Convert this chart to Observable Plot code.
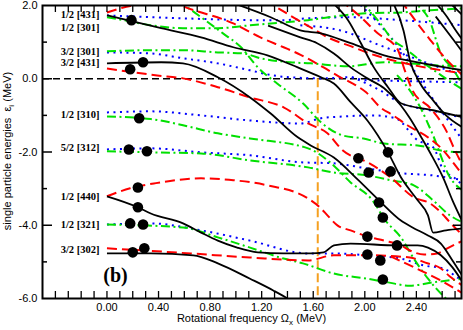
<!DOCTYPE html>
<html><head><meta charset="utf-8">
<script src="https://cdn.jsdelivr.net/npm/d3@7"></script>
<script src="https://cdn.jsdelivr.net/npm/@observablehq/plot@0.6"></script>
<style>html,body{margin:0;padding:0;background:#fff;overflow:hidden;}</style>
</head><body><div id="chart"></div>
<script>
// ---- Data: [Ω (MeV), ε (MeV)] ----
const solidBlack = [
  [[0,1.73],[0.42,1.38],[0.73,1.13],[0.98,0.86],[1.245,0.64],[1.48,0.31],[1.66,0.04],[1.76,-0.13],[1.89,-0.64],[2.02,-1.14],[2.18,-2.01],[2.28,-2.69],[2.41,-3.32],[2.49,-3.73],[2.53,-4.20],[2.63,-4.14],[2.76,-4.09]],
  [[0,0.42],[0.42,0.45],[0.59,0.42],[0.86,0.04],[1.11,-0.51],[1.27,-0.95],[1.48,-1.60],[1.58,-1.82],[1.76,-2.15],[1.95,-2.77],[2.11,-3.32],[2.28,-3.87],[2.37,-4.06],[2.49,-4.28],[2.59,-4.50],[2.68,-4.96],[2.76,-5.40]],
  [[0,-3.21],[0.24,-3.51],[0.34,-3.68],[0.59,-3.95],[0.73,-4.20],[0.86,-4.42],[1.01,-4.61],[1.17,-4.74],[1.37,-4.77],[1.58,-4.77],[1.68,-4.74],[1.76,-4.55],[1.89,-4.50],[2.25,-4.55],[2.41,-4.55],[2.49,-4.61],[2.59,-4.82],[2.68,-5.15],[2.76,-5.56]],
  [[0,-4.77],[0.34,-4.77],[0.67,-4.82],[0.86,-5.04],[1.11,-5.46],[1.29,-5.78],[1.40,-6.0],[1.46,-6.14]],
  [[0.92,2.14],[1.27,1.68],[1.50,1.32],[1.66,1.24],[1.89,0.97],[2.15,0.64],[2.41,0.45],[2.76,0.23]],
  [[1.25,1.45],[1.50,1.13],[1.63,0.97],[1.76,0.69],[1.89,0.31],[2.02,0.01],[2.15,-0.26],[2.28,-0.73],[2.35,-1.08],[2.43,-1.55],[2.51,-2.04],[2.61,-2.72],[2.68,-3.32],[2.76,-3.92]],
  [[1.73,2.14],[1.87,1.60],[1.97,0.97],[2.07,0.31],[2.18,-0.23],[2.28,-0.67],[2.53,-0.86],[2.76,-1.05]],
  [[2.21,2.14],[2.30,1.32],[2.35,0.50],[2.43,-0.13],[2.53,-0.59],[2.63,-1.00],[2.76,-1.33]],
  [[2.53,2.14],[2.64,1.68],[2.69,1.40],[2.76,1.05]],
  [[2.64,2.14],[2.76,1.73]],
  [[2.55,1.70],[2.69,1.05],[2.76,0.72]]
];
const dashedRed = [
  [[0,1.81],[0.10,1.92],[0.22,2.03],[0.30,2.14]],
  [[0,0.28],[0.39,0.09],[0.59,0.01],[0.86,-0.23],[1.11,-0.51],[1.37,-0.78],[1.56,-1.22],[1.71,-1.49],[1.83,-1.96],[2.02,-2.28],[2.20,-2.69],[2.38,-3.24],[2.51,-3.41],[2.59,-3.65],[2.66,-3.92],[2.76,-4.28]],
  [[0,-3.21],[0.18,-2.99],[0.38,-2.85],[0.73,-2.72],[0.98,-2.77],[1.245,-2.91],[1.56,-3.27],[1.66,-3.54],[1.71,-3.73],[1.79,-4.01],[1.89,-4.14],[2.02,-4.31],[2.15,-4.42],[2.28,-4.55],[2.35,-4.69],[2.46,-4.80],[2.56,-4.77],[2.64,-4.63],[2.76,-4.42]],
  [[0,-4.63],[0.65,-4.77],[1.11,-4.88],[1.56,-4.96],[1.76,-4.82],[2.02,-4.82],[2.35,-4.88],[2.47,-5.02],[2.59,-5.18],[2.66,-5.40],[2.76,-5.65]],
  [[2.20,-4.85],[2.43,-5.23],[2.59,-5.51],[2.76,-5.86]],
  [[0.49,2.14],[0.57,2.01],[0.98,1.51],[1.19,1.13],[1.37,0.86],[1.48,0.69],[1.68,0.31],[1.81,0.04],[1.89,-0.10],[2.01,-0.37],[2.12,-0.78],[2.22,-1.00],[2.33,-1.27],[2.49,-1.60],[2.61,-1.96],[2.69,-2.31],[2.76,-2.64]],
  [[1.23,2.14],[1.42,1.73],[1.58,1.40],[1.73,1.10],[1.89,0.89],[2.08,0.64],[2.28,0.45],[2.51,0.28],[2.76,0.15]],
  [[1.81,2.14],[1.97,1.68],[2.10,1.24],[2.25,0.83],[2.31,0.23],[2.37,-0.32],[2.51,-0.81],[2.63,-1.41],[2.70,-1.96],[2.76,-2.37]],
  [[2.28,2.14],[2.39,1.60],[2.51,1.05],[2.64,0.50],[2.76,0.09]]
];
const dashDotGreen = [
  [[0,1.68],[0.10,1.62],[0.34,1.46],[0.59,1.38],[0.86,1.38],[1.11,1.46],[1.37,1.54],[1.56,1.60],[1.83,1.73],[2.02,1.79],[2.28,1.81],[2.51,1.87],[2.76,1.92]],
  [[0,0.75],[0.34,0.78],[0.59,0.78],[0.86,0.72],[1.06,0.69],[1.19,0.56],[1.42,0.45],[1.58,0.42],[1.87,0.34],[2.15,0.45],[2.35,0.42],[2.53,0.37],[2.76,0.34]],
  [[0.55,2.14],[0.73,1.68],[0.90,1.24],[1.04,0.86],[1.17,0.31],[1.32,-0.13],[1.52,-0.67],[1.66,-1.19],[1.83,-1.55],[1.99,-1.63],[2.15,-1.77],[2.41,-1.82],[2.59,-1.96],[2.76,-2.01]],
  [[0,-1.03],[0.34,-1.10],[0.59,-1.27],[0.86,-1.49],[1.11,-1.63],[1.56,-1.90],[1.73,-2.28],[1.89,-2.83],[2.06,-3.32],[2.16,-3.87],[2.28,-4.33],[2.38,-4.91],[2.49,-5.46],[2.63,-6.0],[2.70,-6.2]],
  [[0,-1.98],[0.34,-2.01],[0.73,-2.04],[1.11,-2.23],[1.56,-2.42],[1.76,-2.56],[2.02,-2.64],[2.20,-2.77],[2.38,-2.91],[2.53,-3.32],[2.66,-3.73],[2.76,-3.92]],
  [[0,-3.98],[0.59,-4.06],[0.86,-4.33],[1.11,-4.61],[1.37,-4.91],[1.52,-5.04],[1.76,-5.32],[2.02,-5.46],[2.18,-5.56],[2.35,-5.65],[2.53,-5.56],[2.76,-5.46]],
  [[1.97,2.14],[2.12,1.51],[2.22,1.05],[2.30,0.86],[2.43,0.50],[2.59,0.10],[2.76,-0.30]],
  [[2.33,2.14],[2.49,1.68],[2.59,0.69],[2.69,0.23],[2.76,-0.18]],
  [[2.25,0.10],[2.32,-0.18],[2.43,-0.78],[2.53,-1.55],[2.66,-2.69],[2.76,-3.05]]
];
const dottedBlue = [
  [[0,1.73],[0.34,1.68],[0.59,1.65],[0.86,1.62],[1.11,1.60],[1.37,1.60],[1.56,1.65],[1.89,1.68],[2.28,1.60],[2.76,1.46]],
  [[0,0.72],[0.34,0.69],[0.59,0.56],[0.86,0.42],[1.11,0.23],[1.29,0.09],[1.42,0.04],[1.68,0.01],[1.87,0.04],[2.01,-0.04],[2.28,-0.06],[2.76,-0.10]],
  [[1.90,0.05],[2.12,-0.32],[2.28,-0.67],[2.43,-0.81],[2.59,-0.92],[2.76,-1.08]],
  [[0,-0.92],[0.34,-0.89],[0.73,-1.00],[1.11,-1.14],[1.50,-1.22],[1.66,-1.08],[1.83,-1.03],[2.07,-1.00],[2.24,-1.08],[2.41,-1.68],[2.53,-1.87],[2.61,-2.50],[2.69,-2.69],[2.76,-2.91]],
  [[0,-1.93],[0.34,-1.90],[0.73,-2.01],[1.11,-2.09],[1.50,-2.28],[1.76,-2.31],[2.02,-2.45],[2.28,-2.58],[2.53,-2.64],[2.76,-2.77]],
  [[0,-3.98],[0.34,-3.95],[0.73,-4.14],[1.11,-4.42],[1.56,-4.77],[1.76,-4.77],[2.02,-4.82],[2.28,-4.91],[2.46,-5.10],[2.61,-5.18],[2.72,-5.43],[2.76,-5.51]],
  [[1.93,2.14],[2.12,1.46],[2.28,0.78],[2.43,-0.04],[2.59,-0.86],[2.76,-1.68]],
  [[1.50,1.46],[1.81,1.32],[2.12,0.91],[2.43,0.50],[2.76,0.09]]
];
const dotOmega = [0.19,0.28,0.18,0.25,0.17,0.31,0.24,0.24,0.18,0.28,0.29,0.20,1.95,2.18,2.03,2.20,2.11,2.14,2.02,2.25,2.02,2.12,2.14];
const dotEps   = [1.60,0.45,0.26,-1.08,-1.93,-1.98,-2.97,-3.51,-3.95,-3.98,-4.63,-4.74,-2.17,-2.01,-2.56,-2.53,-3.38,-3.79,-4.31,-4.55,-4.80,-4.96,-5.48];
const orbitalLabels = ["1/2 [431]","1/2 [301]","3/2 [301]","3/2 [431]","1/2 [310]","5/2 [312]","1/2 [440]","1/2 [321]","3/2 [302]"];
const orbitalLabelEps = [1.76,1.40,0.73,0.43,-0.97,-1.87,-3.23,-3.99,-4.67];
const panelLabel = [{x: 0.066, y: -5.37, text: "(b)"}];
const fermiLevel = [0];
const crossingLine = [{x: 1.635, y1: 0, y2: -6}];
const xTickLabels = [0, 0.4, 0.8, 1.2, 1.6, 2.0, 2.4];
const yTickLabels = [-6, -4, -2, 0, 2];
const xTickMarks = [-0.4,-0.3,-0.2,-0.1,0,0.1,0.2,0.3,0.4,0.5,0.6,0.7,0.8,0.9,1.0,1.1,1.2,1.3,1.4,1.5,1.6,1.7,1.8,1.9,2.0,2.1,2.2,2.3,2.4,2.5,2.6,2.7];
const yMajorMarks = [-4, -2, 0];
const yMinorMarks = [-5, -3, -1, 1];

// ---- Build ----
const W = 463, H = 330, mL = 42, mR = 2, mT = 5, mB = 32;
const innerW = W - mL - mR, innerH = H - mT - mB;
const rows = curves => curves.flatMap((c, i) => c.map(([x, y]) => ({id: i, x, y})));

const lineOpts = {x: "x", y: "y", z: "id", curve: "monotone-x", clip: true, strokeLinecap: "butt", strokeLinejoin: "round"};

const plot = Plot.plot({
  width: W, height: H,
  marginLeft: mL, marginRight: mR, marginTop: mT, marginBottom: mB,
  style: {fontFamily: "'Liberation Sans', Arial, sans-serif", fontSize: "11px", background: "#fff", color: "#000"},
  x: {domain: [-0.5, 2.75], ticks: xTickLabels, tickFormat: d => d.toFixed(2), tickSize: 0, tickPadding: 5, label: null},
  y: {domain: [-6, 2], ticks: yTickLabels, tickFormat: d => d.toFixed(1), tickSize: 0, tickPadding: 5, label: null},
  marks: [
    Plot.ruleY(fermiLevel, {stroke: "#000", strokeWidth: 1.3, strokeDasharray: "7,4"}),
    Plot.ruleX(crossingLine, {x: "x", y1: "y1", y2: "y2", stroke: "#f5a020", strokeWidth: 2, strokeDasharray: "9,4"}),
    Plot.line(rows(dottedBlue), {...lineOpts, stroke: "#0000ff", strokeWidth: 2, strokeDasharray: "2,4.5"}),
    Plot.line(rows(dashDotGreen), {...lineOpts, stroke: "#00e000", strokeWidth: 2, strokeDasharray: "9,3.5,2,3.5"}),
    Plot.line(rows(dashedRed), {...lineOpts, stroke: "#ff0000", strokeWidth: 2, strokeDasharray: "10,5"}),
    Plot.line(rows(solidBlack), {...lineOpts, stroke: "#000", strokeWidth: 1.8}),
    Plot.dot(d3.range(dotOmega.length), {x: i => dotOmega[i], y: i => dotEps[i], r: 5.3, fill: "#000", stroke: "none"}),
    Plot.text(d3.range(orbitalLabels.length), {x: () => -0.058, y: i => orbitalLabelEps[i], text: i => orbitalLabels[i],
      textAnchor: "end", fontFamily: "'Liberation Serif', 'Times New Roman', serif", fontWeight: "bold", fontSize: 10.5, fill: "#000"}),
    Plot.text(panelLabel, {x: "x", y: "y", text: "text", fontFamily: "'Liberation Serif', 'Times New Roman', serif", fontWeight: "bold", fontSize: 20, fill: "#000"}),
    Plot.ruleX(xTickMarks, {x: d => d, insetTop: innerH - 7, stroke: "#000", strokeWidth: 1.3}),
    Plot.ruleX(xTickMarks, {x: d => d, insetBottom: innerH - 7, stroke: "#000", strokeWidth: 1.3}),
    Plot.ruleY(yMajorMarks, {y: d => d, insetRight: innerW - 10, stroke: "#000", strokeWidth: 1.5}),
    Plot.ruleY(yMinorMarks, {y: d => d, insetRight: innerW - 5, stroke: "#000", strokeWidth: 1.5}),
    Plot.ruleY(yMajorMarks, {y: d => d, insetLeft: innerW - 8, stroke: "#000", strokeWidth: 1.5}),
    Plot.ruleY(yMinorMarks, {y: d => d, insetLeft: innerW - 5, stroke: "#000", strokeWidth: 1.5}),
    Plot.frame({stroke: "#000", strokeWidth: 2})
  ]
});

const svg = d3.select(plot);
const xl = svg.append("text").attr("x", mL + innerW / 2).attr("y", 322).attr("text-anchor", "middle")
  .attr("font-family", "'Liberation Sans', Arial, sans-serif").attr("font-size", 11).attr("fill", "#000");
xl.append("tspan").text("Rotational frequency \u03A9");
xl.append("tspan").attr("font-size", 8).attr("dy", 3).text("x");
xl.append("tspan").attr("dy", -3).text(" (MeV)");
const yl = svg.append("text").attr("transform", `translate(11,${mT + 146}) rotate(-90)`).attr("text-anchor", "middle")
  .attr("font-family", "'Liberation Sans', Arial, sans-serif").attr("font-size", 11).attr("fill", "#000");
yl.append("tspan").text("single particle energies  \u03B5");
yl.append("tspan").attr("font-size", 8).attr("dy", 3).text("i");
yl.append("tspan").attr("dy", -3).text(" (MeV)");

document.getElementById("chart").appendChild(plot);
</script>
</body></html>
